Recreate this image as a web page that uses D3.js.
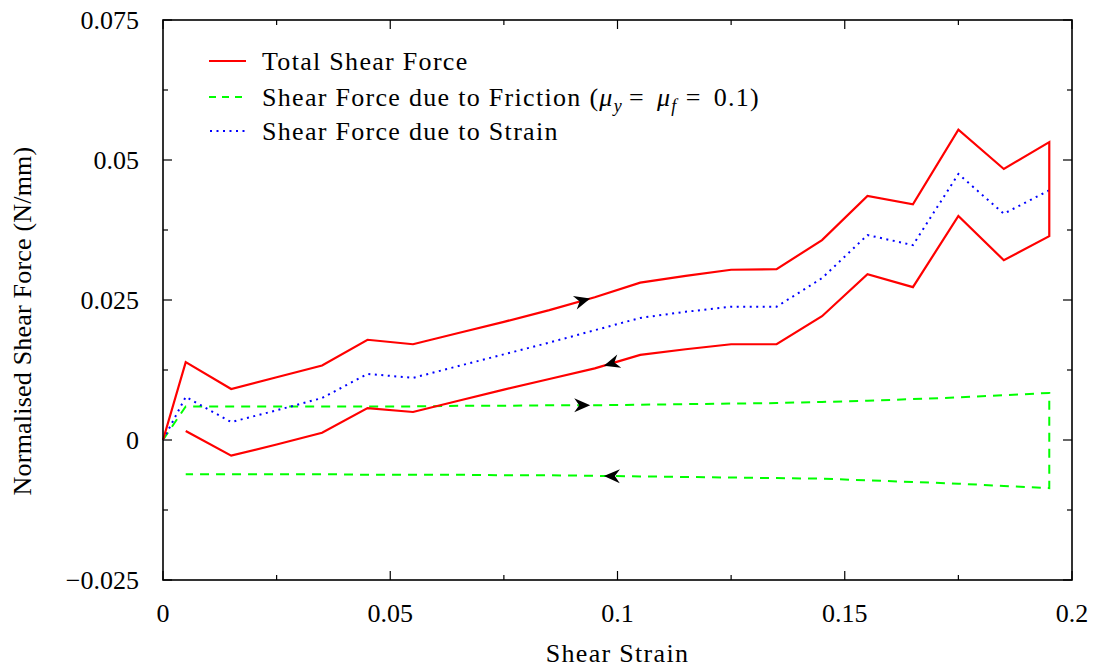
<!DOCTYPE html>
<html>
<head>
<meta charset="utf-8">
<script src="https://cdn.jsdelivr.net/npm/d3@7"></script>
</head>
<body style="margin:0">
<svg id="chart" width="1097" height="669" font-family="Liberation Serif, Tinos, Times New Roman"></svg>
<script>
// ---- Data ----
const strainLoad = [0, 0.005, 0.015, 0.025, 0.035, 0.045, 0.055, 0.065, 0.075, 0.085, 0.095,
                    0.105, 0.115, 0.125, 0.135, 0.145, 0.155, 0.165, 0.175, 0.185, 0.195];
const totalLoad = [0, 0.0139, 0.0091, 0.0112, 0.0133, 0.0179, 0.0171, 0.0191, 0.0211, 0.0232, 0.0255,
                   0.0281, 0.0293, 0.0304, 0.0305, 0.0357, 0.0436, 0.0421, 0.0554, 0.0484, 0.0532];
const frictionLoad = [0, 0.0060, 0.0060, 0.0060, 0.0060, 0.0060, 0.0060, 0.0061, 0.0061, 0.0062, 0.0062,
                      0.0063, 0.0064, 0.0065, 0.0066, 0.0068, 0.0070, 0.0073, 0.0076, 0.0080, 0.0084];
const strainComp = [0, 0.0077, 0.0032, 0.0053, 0.0075, 0.0118, 0.0111, 0.0132, 0.0153, 0.0174, 0.0196,
                    0.0218, 0.0229, 0.0238, 0.0238, 0.0289, 0.0366, 0.0348, 0.0475, 0.0404, 0.0446];

const strainUnload = [0.195, 0.185, 0.175, 0.165, 0.155, 0.145, 0.135, 0.125, 0.115, 0.105, 0.095,
                      0.085, 0.075, 0.065, 0.055, 0.045, 0.035, 0.025, 0.015, 0.005];
const totalUnload = [0.0364, 0.0321, 0.0400, 0.0273, 0.0296, 0.0221, 0.0171, 0.0171, 0.0162, 0.0152, 0.0128,
                     0.0109, 0.0090, 0.0070, 0.0050, 0.0057, 0.0013, -0.0008, -0.0028, 0.0016];
const frictionUnload = [-0.0086, -0.0082, -0.0078, -0.0075, -0.0072, -0.0069, -0.0068, -0.0067, -0.0066, -0.0065, -0.0064,
                        -0.0063, -0.0063, -0.0062, -0.0062, -0.0062, -0.0061, -0.0061, -0.0061, -0.0061];

const xTicks = [0, 0.05, 0.1, 0.15, 0.2];
const xTickLabels = ["0", "0.05", "0.1", "0.15", "0.2"];
const xMinorTicks = [0.025, 0.075, 0.125, 0.175];
const yTicks = [-0.025, 0, 0.025, 0.05, 0.075];
const yTickLabels = ["\u22120.025", "0", "0.025", "0.05", "0.075"];
const yMinorTicks = [-0.0125, 0.0125, 0.0375, 0.0625];

const seriesNames = ["Total Shear Force", "Shear Force due to Friction", "Shear Force due to Strain"];
const arrowStrains = [0.094, 0.097]; // loading arrow, unloading arrow

// ---- Layout ----
const FONT = '"Liberation Serif", "Tinos", "Times New Roman"';
const svg = d3.select("#chart").style("font-family", FONT);
const L = 163, R = 1072, T = 20, B = 580;
const x = d3.scaleLinear().domain([0, 0.2]).range([L, R]);
const y = d3.scaleLinear().domain([-0.025, 0.075]).range([B, T]);

function txt(parent) {
  return parent.append("text")
    .style("font-family", FONT)
    .attr("font-size", 26).attr("fill", "#000");
}

// frame ticks (inward, mirrored)
const tg = svg.append("g").attr("stroke", "#000").attr("stroke-width", 1.2);
function xt(vals, len) {
  vals.forEach(v => {
    tg.append("line").attr("x1", x(v)).attr("x2", x(v)).attr("y1", B).attr("y2", B - len);
    tg.append("line").attr("x1", x(v)).attr("x2", x(v)).attr("y1", T).attr("y2", T + len);
  });
}
function yt(vals, len) {
  vals.forEach(v => {
    tg.append("line").attr("y1", y(v)).attr("y2", y(v)).attr("x1", L).attr("x2", L + len);
    tg.append("line").attr("y1", y(v)).attr("y2", y(v)).attr("x1", R).attr("x2", R - len);
  });
}
xt(xTicks, 9); xt(xMinorTicks, 5);
yt(yTicks, 9); yt(yMinorTicks, 5);

// tick labels
xTicks.forEach((v, i) => {
  txt(svg).attr("x", x(v)).attr("y", 622).attr("text-anchor", "middle").text(xTickLabels[i]);
});
yTicks.forEach((v, i) => {
  txt(svg).attr("x", 139).attr("y", y(v) + 8.5).attr("text-anchor", "end").text(yTickLabels[i]);
});

// axis titles
txt(svg).attr("x", (L + R) / 2).attr("y", 662).attr("text-anchor", "middle")
  .attr("letter-spacing", 1.3).text("Shear Strain");
txt(svg).attr("transform", "translate(31,321) rotate(-90)").attr("text-anchor", "middle")
  .attr("letter-spacing", 0.2).text("Normalised Shear Force (N/mm)");

// ---- Lines ----
const line = d3.line().x(d => x(d[0])).y(d => y(d[1]));
const zipP = (xs, ys) => xs.map((v, i) => [v, ys[i]]);

const totalPath = zipP(strainLoad, totalLoad).concat(zipP(strainUnload, totalUnload));
const frictionPath = zipP(strainLoad, frictionLoad).concat(zipP(strainUnload, frictionUnload));
const strainPath = zipP(strainLoad, strainComp);

const plot = svg.append("g");
plot.append("path").datum(frictionPath).attr("d", line)
  .attr("fill", "none").attr("stroke", "#00ff00").attr("stroke-width", 2).attr("stroke-dasharray", "9,7");
plot.append("path").datum(strainPath).attr("d", line)
  .attr("fill", "none").attr("stroke", "#0000ff").attr("stroke-width", 2).attr("stroke-dasharray", "2,4.5");
plot.append("path").datum(totalPath).attr("d", line)
  .attr("fill", "none").attr("stroke", "#ff0000").attr("stroke-width", 2.2).attr("stroke-linejoin", "miter");

// frame
svg.append("rect").attr("x", L).attr("y", T).attr("width", R - L).attr("height", B - T)
  .attr("fill", "none").attr("stroke", "#000").attr("stroke-width", 1.6);

// ---- Direction arrows ----
function interp(xs, ys, v) {
  for (let i = 0; i < xs.length - 1; i++) {
    const a = xs[i], b = xs[i + 1];
    if ((v - a) * (v - b) <= 0) {
      const t = (v - a) / (b - a);
      return { py: ys[i] + t * (ys[i + 1] - ys[i]), sx: [a, b], sy: [ys[i], ys[i + 1]] };
    }
  }
  return null;
}
function arrow(xs, ys, v) {
  const r = interp(xs, ys, v);
  const px = x(v), py = y(r.py);
  const dx = x(r.sx[1]) - x(r.sx[0]), dy = y(r.sy[1]) - y(r.sy[0]);
  const ang = Math.atan2(dy, dx) * 180 / Math.PI;
  svg.append("path")
    .attr("d", "M0,0 L-16,-7 L-11,0 L-16,7 Z")
    .attr("transform", `translate(${px},${py}) rotate(${ang})`)
    .attr("fill", "#000");
}
arrow(strainLoad, totalLoad, arrowStrains[0]);
arrow(strainUnload, totalUnload, arrowStrains[1]);
arrow(strainLoad, frictionLoad, arrowStrains[0]);
arrow(strainUnload, frictionUnload, arrowStrains[1]);

// ---- Legend ----
const lg = svg.append("g");
const rows = [61, 97, 131];
lg.append("line").attr("x1", 209).attr("x2", 246).attr("y1", rows[0]).attr("y2", rows[0])
  .attr("stroke", "#ff0000").attr("stroke-width", 2.2);
lg.append("line").attr("x1", 209).attr("x2", 246).attr("y1", rows[1]).attr("y2", rows[1])
  .attr("stroke", "#00ff00").attr("stroke-width", 2).attr("stroke-dasharray", "7,6");
lg.append("line").attr("x1", 210).attr("x2", 246).attr("y1", rows[2]).attr("y2", rows[2])
  .attr("stroke", "#0000ff").attr("stroke-width", 2).attr("stroke-dasharray", "2,4.5");

txt(lg).attr("x", 262).attr("y", rows[0] + 8.5).attr("letter-spacing", 1.3).text(seriesNames[0]);
const t2 = txt(lg).attr("x", 262).attr("y", rows[1] + 8.5).attr("letter-spacing", 1.3);
t2.append("tspan").text(seriesNames[1] + " (");
t2.append("tspan").attr("font-style", "italic").text("\u03BC");
t2.append("tspan").attr("font-style", "italic").attr("font-size", 18).attr("dy", 6).text("y");
t2.append("tspan").attr("dy", -6).attr("dx", 6).text("=");
t2.append("tspan").attr("dx", 12).attr("font-style", "italic").text("\u03BC");
t2.append("tspan").attr("font-style", "italic").attr("font-size", 18).attr("dy", 6).text("f");
t2.append("tspan").attr("dy", -6).attr("dx", 8).text("=");
t2.append("tspan").attr("dx", 12).text("0.1)");
txt(lg).attr("x", 262).attr("y", rows[2] + 8.5).attr("letter-spacing", 1.3).text(seriesNames[2]);
</script>
</body>
</html>
